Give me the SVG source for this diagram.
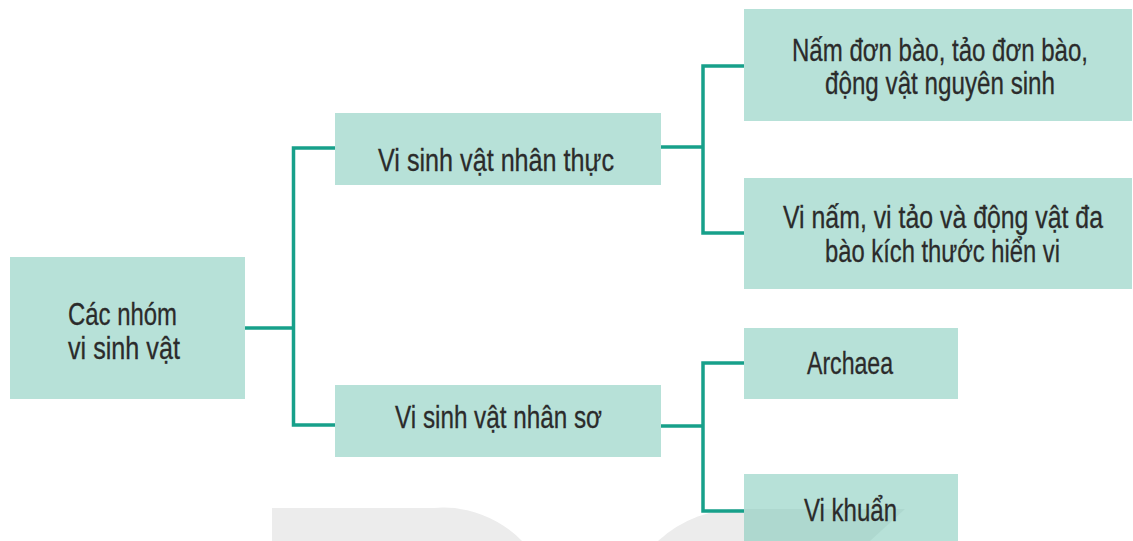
<svg xmlns="http://www.w3.org/2000/svg" width="1133" height="541" viewBox="0 0 1133 541">
<style>
.box{fill:#b7e1d8}
.lbl{font-family:"Liberation Sans","Noto Sans",sans-serif;font-size:32px;fill:#2b2b2b;stroke:#2b2b2b;stroke-width:0.3}
.con{fill:none;stroke:#17a08a;stroke-width:3.5;stroke-linejoin:miter;stroke-linecap:butt}
.wm{fill:#ececec}
</style>
<rect width="1133" height="541" fill="#ffffff"/>
<g id="watermark">
<path class="wm" d="M272,508 H434 A110,110 0 0 1 522,541 H272 Z"/>
<path class="wm" d="M658,541 A120,120 0 0 1 744,509 V541 Z"/>
</g>
<g id="connectors">
<path class="con" d="M245,328 H293.5"/>
<path class="con" d="M335,148 H293.5 V425 H335"/>
<path class="con" d="M661,147 H703"/>
<path class="con" d="M744,66 H703 V233 H744"/>
<path class="con" d="M661,426 H703"/>
<path class="con" d="M744,363 H703 V511 H744"/>
</g>
<g id="root">
<rect class="box" x="10" y="257" width="235" height="142"/>
<text class="lbl" transform="translate(68,325) scale(0.75,1)" textLength="145.3" lengthAdjust="spacingAndGlyphs">Các nhóm</text>
<text class="lbl" transform="translate(68,359) scale(0.75,1)" textLength="149.3" lengthAdjust="spacingAndGlyphs">vi sinh vật</text>
</g>
<g id="nhan-thuc">
<rect class="box" x="335" y="113" width="326" height="72"/>
<text class="lbl" transform="translate(378,171) scale(0.75,1)" textLength="314.7" lengthAdjust="spacingAndGlyphs">Vi sinh vật nhân thực</text>
</g>
<g id="nhan-so">
<rect class="box" x="335" y="385" width="326" height="72"/>
<text class="lbl" transform="translate(395,428) scale(0.75,1)" textLength="276" lengthAdjust="spacingAndGlyphs">Vi sinh vật nhân sơ</text>
</g>
<g id="don-bao">
<rect class="box" x="744" y="9" width="388" height="112"/>
<text class="lbl" transform="translate(792,61) scale(0.75,1)" textLength="394.7" lengthAdjust="spacingAndGlyphs">Nấm đơn bào, tảo đơn bào,</text>
<text class="lbl" transform="translate(825,94) scale(0.75,1)" textLength="306.7" lengthAdjust="spacingAndGlyphs">động vật nguyên sinh</text>
</g>
<g id="da-bao">
<rect class="box" x="744" y="178" width="388" height="111"/>
<text class="lbl" transform="translate(783,228) scale(0.75,1)" textLength="426.7" lengthAdjust="spacingAndGlyphs">Vi nấm, vi tảo và động vật đa</text>
<text class="lbl" transform="translate(825,262) scale(0.75,1)" textLength="313.3" lengthAdjust="spacingAndGlyphs">bào kích thước hiển vi</text>
</g>
<g id="archaea">
<rect class="box" x="744" y="328" width="214" height="71"/>
<text class="lbl" transform="translate(807,374) scale(0.75,1)" textLength="114.7" lengthAdjust="spacingAndGlyphs">Archaea</text>
</g>
<g id="vi-khuan">
<rect class="box" x="744" y="474" width="214" height="67"/>
<path d="M744,509 H905 L870,541 H744 Z" fill="#aed8cf"/>
<text class="lbl" transform="translate(804,521) scale(0.75,1)" textLength="124" lengthAdjust="spacingAndGlyphs">Vi khuẩn</text>
</g>
</svg>
